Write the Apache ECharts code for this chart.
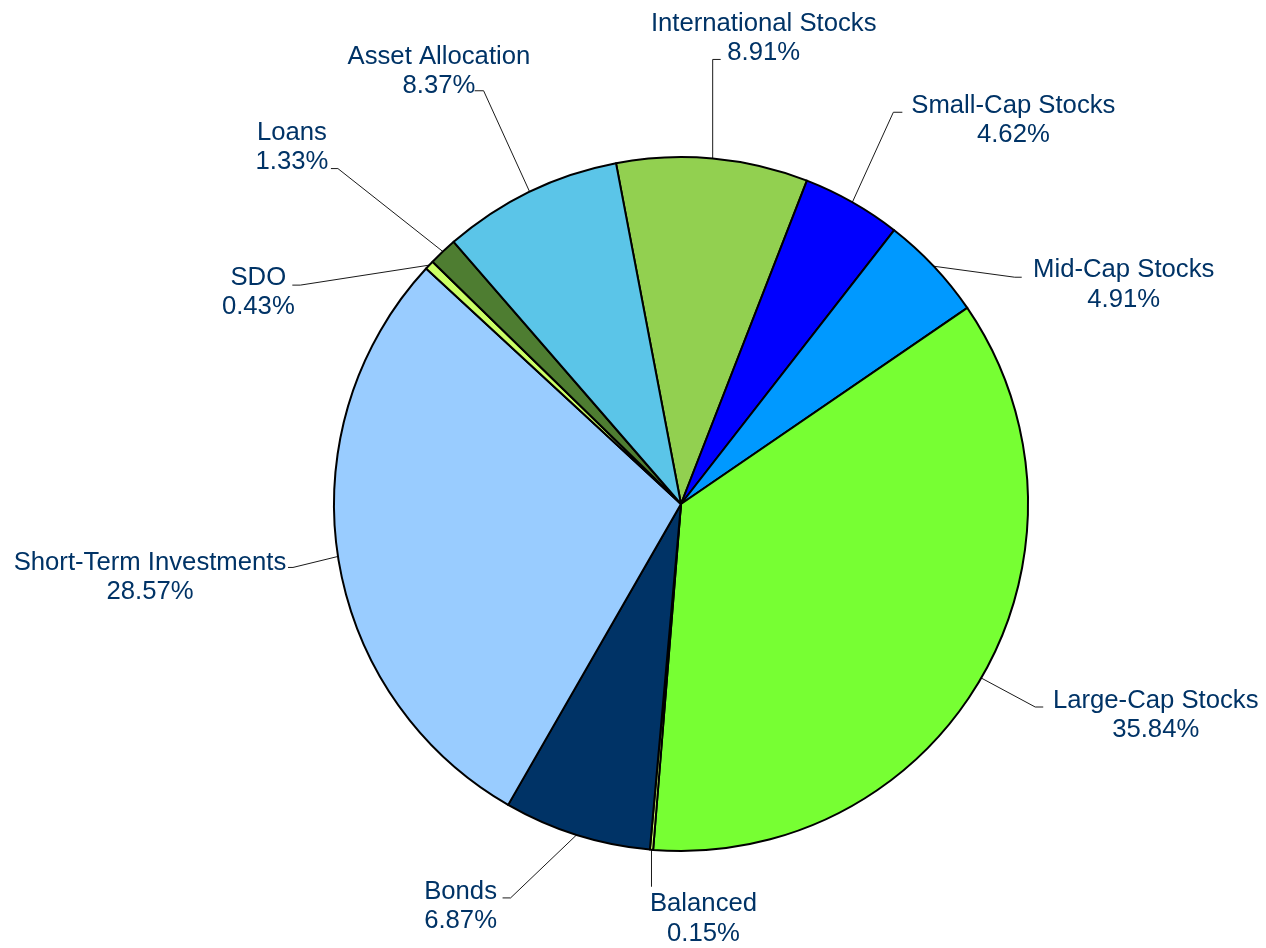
<!DOCTYPE html>
<html><head><meta charset="utf-8">
<script src="https://cdn.jsdelivr.net/npm/echarts@6/dist/echarts.min.js"></script>
<style>html,body{margin:0;padding:0;background:#fff}#c{width:1266px;height:948px}</style>
</head><body><div id="c"></div>
<script>
const categories = ['International Stocks','Small-Cap Stocks','Mid-Cap Stocks','Large-Cap Stocks','Balanced','Bonds','Short-Term Investments','SDO','Loans','Asset Allocation'];
const percentages = [8.91, 4.62, 4.91, 35.84, 0.15, 6.87, 28.57, 0.43, 1.33, 8.37];
const sliceColors = ['#92D050','#0000FF','#0099FF','#77FF33','#CCFF66','#003366','#99CCFF','#CCFF66','#4E7D31','#5BC5E8'];
// label-line geometry (relative pixel offsets from each slice's edge point)
const elbowOffsets = [[0,-99],[41,-90],[81,11],[54,29],[0,37],[-66,63],[-45,11],[-129,20],[-105,-83],[-46,-101]];
const stubLengths = [8,9,7,8,0,-8,-5,-8,-7,-9];
const textOffsets = [[43,-21],[111,8],[102,7.5],[112.5,8.5],[52,32],[-42,8.5],[-138,10],[-34,7.5],[-39,-21],[-35.7,-19.5]];

const chart = echarts.init(document.getElementById('c'), null, {renderer:'canvas'});
chart.setOption({
  animation: false,
  backgroundColor: '#ffffff',
  series: [{
    type: 'pie',
    center: [681, 504],
    radius: 347,
    startAngle: 100.8,
    clockwise: true,
    avoidLabelOverlap: false,
    minShowLabelAngle: 0,
    data: categories.map((n, i) => ({name: n, value: percentages[i], itemStyle: {color: sliceColors[i]}})),
    itemStyle: {borderColor: '#000', borderWidth: 2},
    label: {
      show: true,
      position: 'outside',
      overflow: 'none',
      color: '#003366',
      fontFamily: 'Liberation Sans, Arial, sans-serif',
      fontSize: 25.7,
      lineHeight: 29.5,
      formatter: p => p.name + '\n' + p.value.toFixed(2) + '%'
    },
    labelLine: {show: true, smooth: false, lineStyle: {color: '#1a1a1a', width: 1}},
    labelLayout: function (params) {
      const i = params.dataIndex;
      const pts = params.labelLinePoints;
      if (!pts) return {};
      const p0 = pts[0];
      const p1 = [p0[0] + elbowOffsets[i][0], p0[1] + elbowOffsets[i][1]];
      const p2 = [p1[0] + stubLengths[i], p1[1]];
      return {
        x: p2[0] + textOffsets[i][0],
        y: p2[1] + textOffsets[i][1],
        align: 'center',
        verticalAlign: 'middle',
        labelLinePoints: [p0, p1, p2]
      };
    },
    emphasis: {disabled: true}
  }]
});
</script></body></html>
